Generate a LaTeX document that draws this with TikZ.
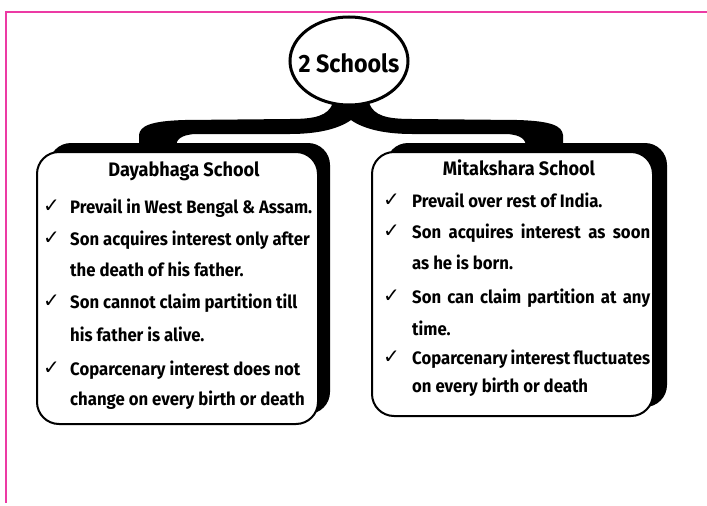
\documentclass[tikz,border=0pt]{standalone}
\usepackage{fontspec}
\usetikzlibrary{shapes.geometric}
\setmainfont{Fira Sans}[FakeStretch=0.93]
\newfontfamily\symfont{DejaVu Sans}
\definecolor{pinkline}{RGB}{236,58,164}
\tikzset{
  shadowbox/.style={fill=black, rounded corners=22pt},
  mainbox/.style={draw=black, line width=2pt, fill=white, rounded corners=22pt},
  txt/.style={anchor=base west, inner sep=0pt, font=\fontsize{18}{18}\selectfont\bfseries},
  ttl/.style={anchor=base, inner sep=0pt, font=\fontsize{19.5}{19.5}\selectfont\bfseries},
  chk/.style={anchor=base west, inner sep=0pt, font=\symfont\fontsize{20}{20}\selectfont},
}
\begin{document}
\begin{tikzpicture}[x=1pt,y=-1pt]
\useasboundingbox (0,0) rectangle (707,506);
% pink frame lines
\draw[pinkline, line width=1.5pt] (707,12) -- (6,12) -- (6,503);
% shadows
\fill[shadowbox] (49,143) rectangle (330,414);
\fill[shadowbox] (386,143) rectangle (667,407);
% brace
\fill[black] (333,103) .. controls (328,116) and (315,119) .. (290,119)
  -- (185,120) .. controls (150,121) and (140,126) .. (139,135)
  -- (139,147) -- (176,147) .. controls (176,140) and (180,135) .. (195,134)
  -- (290,134) .. controls (320,134) and (340,128) .. (351,120)
  .. controls (362,128) and (382,134) .. (412,134)
  -- (507,134) .. controls (522,135) and (526,140) .. (526,147)
  -- (563,147) -- (563,135) .. controls (562,126) and (552,121) .. (517,120)
  -- (412,119) .. controls (387,119) and (374,116) .. (369,103) -- cycle;
% boxes
\draw[mainbox] (37,152) rectangle (318,424);
\draw[mainbox] (372,152) rectangle (653,416);
% ellipse
\node[draw=black, line width=3pt, fill=white, ellipse, minimum width=118pt, minimum height=88pt, inner sep=0pt] (root) at (349,61) {};
\node[anchor=center, inner sep=0pt, font=\fontsize{25}{25}\selectfont\bfseries] (roottxt) at (349,63) {2 Schools};
% left column
\node[ttl] (lt) at (184,176) {Dayabhaga School};
\node[chk] (lc1) at (43,212) {✓};
\node[txt] (l1) at (70,213) {Prevail in West Bengal \& Assam.};
\node[chk] (lc2) at (43,244) {✓};
\node[txt] (l2a) at (70,245) {Son acquires interest only after};
\node[txt] (l2b) at (70,276) {the death of his father.};
\node[chk] (lc3) at (43,307) {✓};
\node[txt] (l3a) at (70,308) {Son cannot claim partition till};
\node[txt] (l3b) at (70,341) {his father is alive.};
\node[chk] (lc4) at (43,374) {✓};
\node[txt] (l4a) at (70,375) {Coparcenary interest does not};
\node[txt] (l4b) at (70,405) {change on every birth or death};
% right column
\node[ttl] (rt) at (519,175) {Mitakshara School};
\node[chk] (rc1) at (383,206) {✓};
\node[txt] (r1) at (412,207) {Prevail over rest of India.};
\node[chk] (rc2) at (383,237) {✓};
\node[txt] (r2a) at (412,238) {\makebox[238pt][s]{Son acquires interest as soon}};
\node[txt] (r2b) at (412,269) {as he is born.};
\node[chk] (rc3) at (383,302) {✓};
\node[txt] (r3a) at (412,303) {\makebox[238pt][s]{Son can claim partition at any}};
\node[txt] (r3b) at (412,335) {time.};
\node[chk] (rc4) at (383,363) {✓};
\node[txt] (r4a) at (412,364) {\makebox[238pt][s]{Coparcenary interest fluctuates}};
\node[txt] (r4b) at (412,392) {on every birth or death};
\end{tikzpicture}
\end{document}
